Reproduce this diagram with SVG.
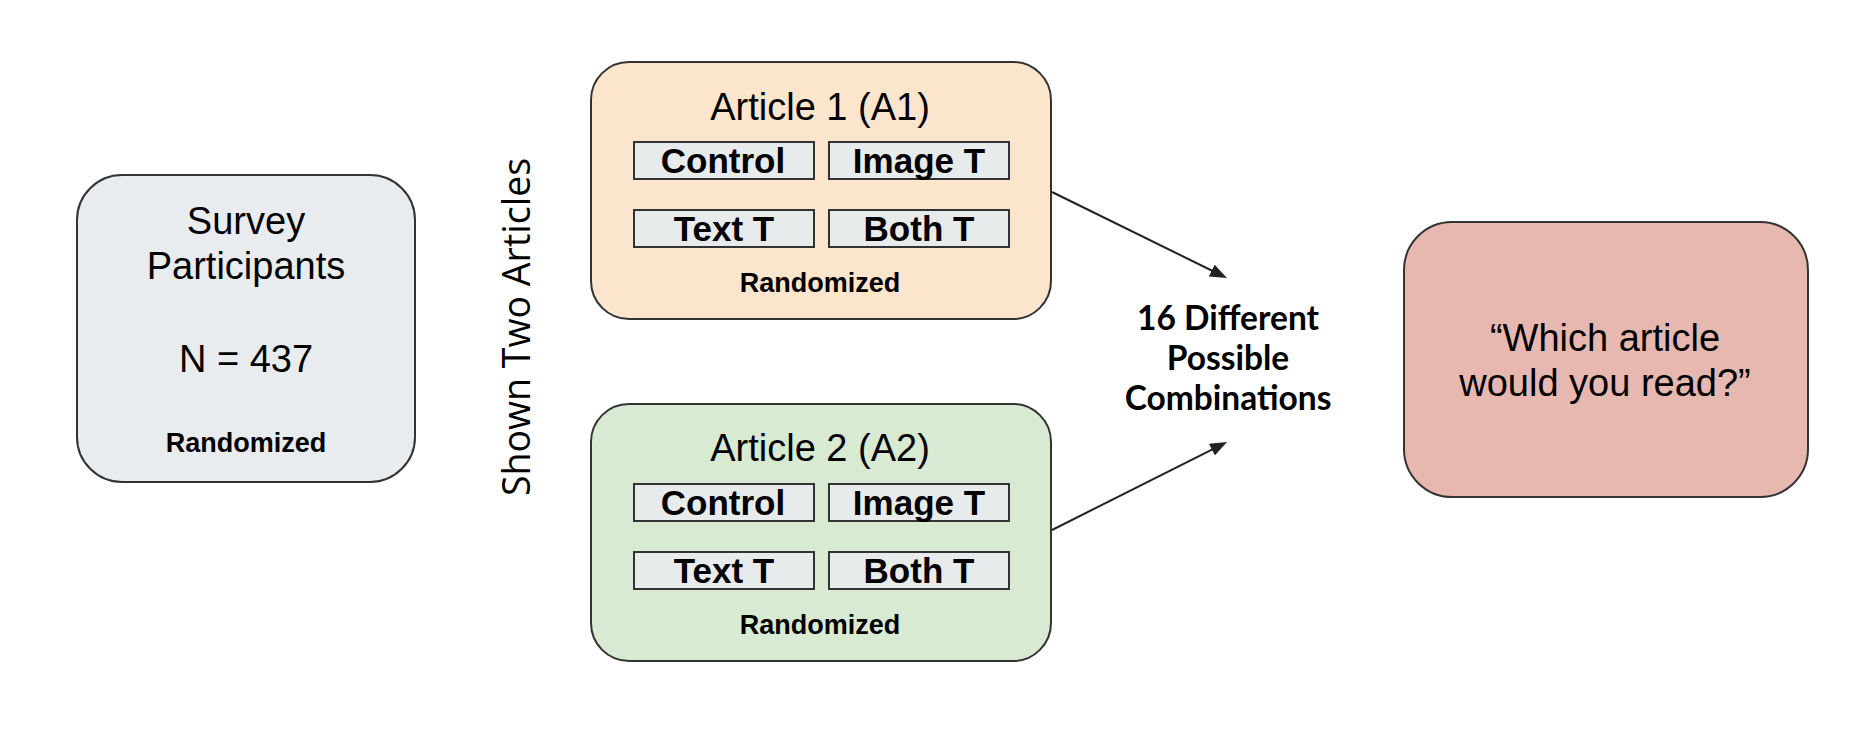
<svg xmlns="http://www.w3.org/2000/svg" width="1875" height="739" viewBox="0 0 1875 739">
  <style>
    .box { stroke: #333333; stroke-width: 2; }
    .inner { fill: #e8ebec; stroke: #333333; stroke-width: 2; }
    .reg { font-family: "Liberation Sans", Arial, sans-serif; font-size: 38px; fill: #000000; text-anchor: middle; }
    .bold { font-family: "Liberation Sans", Arial, sans-serif; font-weight: bold; font-size: 35px; fill: #000000; text-anchor: middle; }
    .small { font-family: "Liberation Sans", Arial, sans-serif; font-weight: bold; font-size: 27px; fill: #000000; text-anchor: middle; }
    .lato { font-family: Lato, "Liberation Sans", sans-serif; font-weight: bold; font-size: 33.5px; fill: #000000; text-anchor: middle; }
    .side { font-family: "Open Sans", "Liberation Sans", sans-serif; font-size: 37.5px; fill: #000000; text-anchor: middle; }
    .conn { stroke: #222222; stroke-width: 2; fill: none; marker-end: url(#arrow); }
  </style>
  <defs>
    <marker id="arrow" markerUnits="userSpaceOnUse" viewBox="0 0 17 13" markerWidth="17" markerHeight="13" refX="9" refY="6.5" orient="auto">
      <path d="M0,0 L17,6.5 L0,13 z" fill="#222222"/>
    </marker>
  </defs>
  <rect width="1875" height="739" fill="#ffffff"/>

  <g id="survey">
    <rect class="box" x="77" y="175" width="338" height="307" rx="45" ry="45" fill="#e9ecee"/>
    <text class="reg" x="246" y="234">Survey</text>
    <text class="reg" x="246" y="279">Participants</text>
    <text class="reg" x="246" y="372">N = 437</text>
    <text class="small" x="246" y="452">Randomized</text>
  </g>

  <g id="shown-label">
    <text class="side" transform="translate(530,327) rotate(-90)" x="0" y="0">Shown Two Articles</text>
  </g>

  <g id="article1">
    <rect class="box" x="591" y="62" width="460" height="257" rx="38" ry="38" fill="#fce5cd"/>
    <text class="reg" x="820" y="120">Article 1 (A1)</text>
    <rect class="inner" x="634" y="142" width="180" height="37"/>
    <text class="bold" x="723" y="173">Control</text>
    <rect class="inner" x="829" y="142" width="180" height="37"/>
    <text class="bold" x="919" y="173">Image T</text>
    <rect class="inner" x="634" y="210" width="180" height="37"/>
    <text class="bold" x="724" y="241">Text T</text>
    <rect class="inner" x="829" y="210" width="180" height="37"/>
    <text class="bold" x="919" y="241">Both T</text>
    <text class="small" x="820" y="292">Randomized</text>
  </g>

  <g id="article2">
    <rect class="box" x="591" y="404" width="460" height="257" rx="38" ry="38" fill="#d9ead3"/>
    <text class="reg" x="820" y="461">Article 2 (A2)</text>
    <rect class="inner" x="634" y="484" width="180" height="37"/>
    <text class="bold" x="723" y="515">Control</text>
    <rect class="inner" x="829" y="484" width="180" height="37"/>
    <text class="bold" x="919" y="515">Image T</text>
    <rect class="inner" x="634" y="552" width="180" height="37"/>
    <text class="bold" x="724" y="583">Text T</text>
    <rect class="inner" x="829" y="552" width="180" height="37"/>
    <text class="bold" x="919" y="583">Both T</text>
    <text class="small" x="820" y="634">Randomized</text>
  </g>

  <g id="combinations">
    <text class="lato" x="1228" y="330">16 Different</text>
    <text class="lato" x="1228" y="370">Possible</text>
    <text class="lato" x="1228" y="410">Combinations</text>
  </g>

  <g id="question">
    <rect class="box" x="1404" y="222" width="404" height="275" rx="48" ry="48" fill="#e6b8af"/>
    <text class="reg" x="1605" y="351">“Which article</text>
    <text class="reg" x="1605" y="396">would you read?”</text>
  </g>

  <g id="connectors">
    <line class="conn" x1="1052" y1="192" x2="1219.8" y2="274.5"/>
    <line class="conn" x1="1052" y1="530" x2="1219.9" y2="445.6"/>
  </g>
</svg>
